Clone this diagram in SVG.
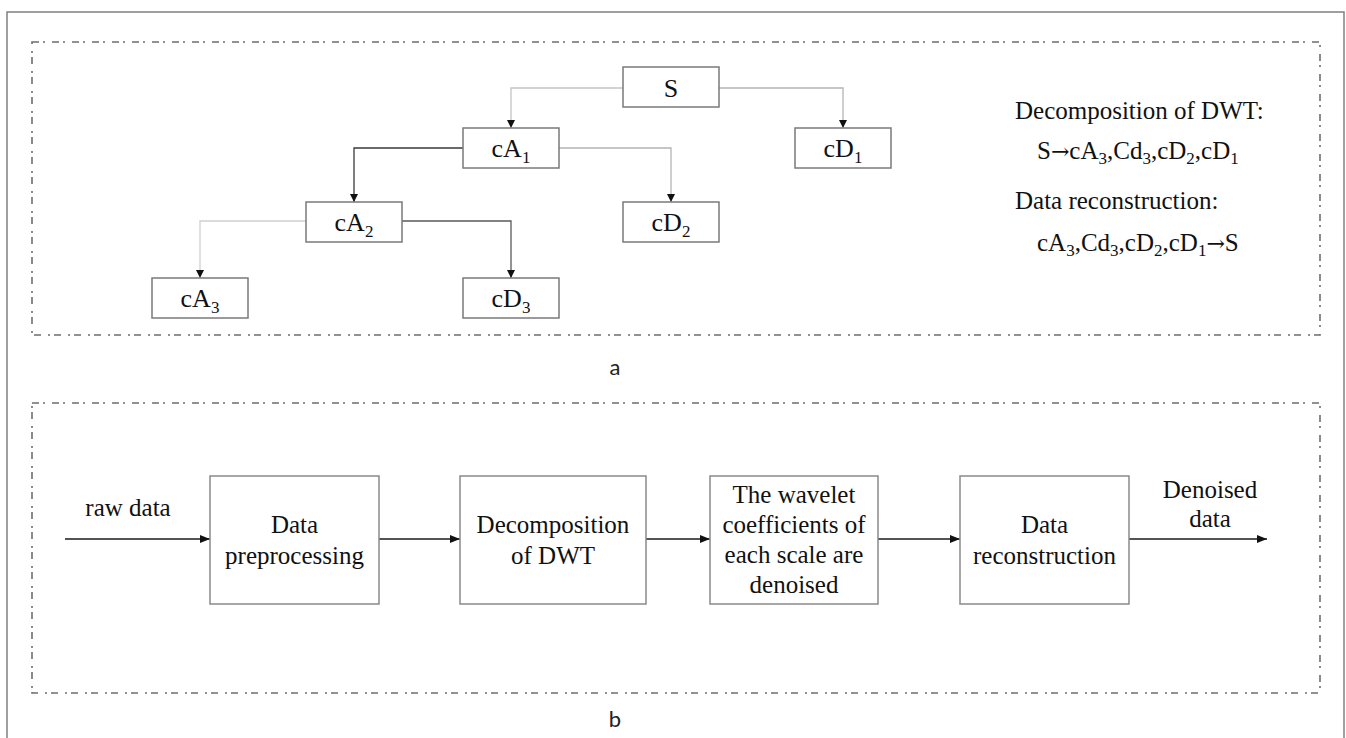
<svg xmlns="http://www.w3.org/2000/svg" width="1346" height="738" viewBox="0 0 1346 738">
<style>
.t{font-family:"Liberation Serif","Times New Roman",serif;fill:#111;}
.tn{font-size:26px;text-anchor:middle;}
.tb{font-size:25px;text-anchor:middle;}
.tr{font-size:25px;}
.sub{font-size:17px;}
.ar{font-family:"DejaVu Serif",serif;font-size:22px;}
.lbl{font-family:Lato,"Open Sans",sans-serif;font-size:22px;fill:#222;text-anchor:middle;}
.node{fill:#fff;stroke:#7a7a7a;stroke-width:1.5;}
.nodeb{fill:#fff;stroke:#8a8a8a;stroke-width:1.5;}
.dash{fill:none;stroke:#6e6e6e;stroke-width:1.6;stroke-dasharray:7 4 2 7;}
.c{fill:none;stroke-width:1.3;}
.flow{fill:none;stroke:#1a1a1a;stroke-width:1.5;}
</style>
<defs>
<marker id="ah" markerUnits="userSpaceOnUse" markerWidth="8" markerHeight="8" refX="8" refY="4" orient="auto">
<path d="M0,0 L8,4 L0,8 z" fill="#111"/>
</marker>
<marker id="ahb" markerUnits="userSpaceOnUse" markerWidth="10" markerHeight="10" refX="10" refY="5" orient="auto">
<path d="M0,1 L10,5 L0,9 z" fill="#111"/>
</marker>
</defs>
<rect width="1346" height="738" fill="#fff"/>
<rect x="7" y="12" width="1337" height="760" fill="none" stroke="#808080" stroke-width="1.5"/>
<rect class="dash" x="32" y="42" width="1288" height="293"/>
<rect class="dash" x="32" y="403" width="1288" height="290"/>
<text class="lbl" x="615" y="375">a</text>
<text class="lbl" x="615" y="727">b</text>
<g id="connectors">
<path class="c" stroke="#c4c4c4" d="M623,88 H511 V128" marker-end="url(#ah)"/>
<path class="c" stroke="#b4b4b4" d="M719,88 H843 V128" marker-end="url(#ah)"/>
<path class="c" stroke="#3a3a3a" d="M463,148 H354 V202" marker-end="url(#ah)"/>
<path class="c" stroke="#b4b4b4" d="M559,148 H671 V202" marker-end="url(#ah)"/>
<path class="c" stroke="#d0d0d0" d="M306,221 H200 V278" marker-end="url(#ah)"/>
<path class="c" stroke="#5a5a5a" d="M402,221 H511 V278" marker-end="url(#ah)"/>
<path class="flow" d="M65,539 H210" marker-end="url(#ahb)"/>
<path class="flow" d="M379,539 H460" marker-end="url(#ahb)"/>
<path class="flow" d="M646,539 H710" marker-end="url(#ahb)"/>
<path class="flow" d="M878,539 H960" marker-end="url(#ahb)"/>
<path class="flow" d="M1129,539 H1267" marker-end="url(#ahb)"/>
</g>
<g id="node-S"><rect class="node" x="623" y="67" width="96" height="40"/><text class="t tn" x="671" y="97">S</text></g>
<g id="node-cA1"><rect class="node" x="463" y="128" width="96" height="40"/><text class="t tn" x="511" y="157">cA<tspan class="sub" dy="6">1</tspan></text></g>
<g id="node-cD1"><rect class="node" x="795" y="128" width="96" height="40"/><text class="t tn" x="843" y="157">cD<tspan class="sub" dy="6">1</tspan></text></g>
<g id="node-cA2"><rect class="node" x="306" y="202" width="96" height="40"/><text class="t tn" x="354" y="231">cA<tspan class="sub" dy="6">2</tspan></text></g>
<g id="node-cD2"><rect class="node" x="623" y="202" width="96" height="40"/><text class="t tn" x="671" y="231">cD<tspan class="sub" dy="6">2</tspan></text></g>
<g id="node-cA3"><rect class="node" x="152" y="278" width="96" height="40"/><text class="t tn" x="200" y="307">cA<tspan class="sub" dy="6">3</tspan></text></g>
<g id="node-cD3"><rect class="node" x="463" y="278" width="96" height="40"/><text class="t tn" x="511" y="307">cD<tspan class="sub" dy="6">3</tspan></text></g>
<g id="legend">
<text class="t tr" x="1015" y="119">Decomposition of DWT:</text>
<text class="t tr" x="1037" y="159">S<tspan class="ar">→</tspan>cA<tspan class="sub" dy="5">3</tspan><tspan dy="-5">,Cd</tspan><tspan class="sub" dy="5">3</tspan><tspan dy="-5">,cD</tspan><tspan class="sub" dy="5">2</tspan><tspan dy="-5">,cD</tspan><tspan class="sub" dy="5">1</tspan></text>
<text class="t tr" x="1015" y="209">Data reconstruction:</text>
<text class="t tr" x="1037" y="251">cA<tspan class="sub" dy="5">3</tspan><tspan dy="-5">,Cd</tspan><tspan class="sub" dy="5">3</tspan><tspan dy="-5">,cD</tspan><tspan class="sub" dy="5">2</tspan><tspan dy="-5">,cD</tspan><tspan class="sub" dy="5">1</tspan><tspan class="ar" dy="-5">→</tspan>S</text>
</g>
<text class="t tb" x="128" y="516">raw data</text>
<g id="node-preprocessing"><rect class="nodeb" x="210" y="476" width="169" height="128"/><text class="t tb" x="294.5" y="533">Data</text><text class="t tb" x="294.5" y="564">preprocessing</text></g>
<g id="node-decomposition"><rect class="nodeb" x="460" y="476" width="186" height="128"/><text class="t tb" x="553" y="533">Decomposition</text><text class="t tb" x="553" y="564">of DWT</text></g>
<g id="node-denoise"><rect class="nodeb" x="710" y="476" width="168" height="128"/><text class="t tb" x="794" y="503">The wavelet</text><text class="t tb" x="794" y="533">coefficients of</text><text class="t tb" x="794" y="563">each scale are</text><text class="t tb" x="794" y="593">denoised</text></g>
<g id="node-reconstruction"><rect class="nodeb" x="960" y="476" width="169" height="128"/><text class="t tb" x="1044.5" y="533">Data</text><text class="t tb" x="1044.5" y="564">reconstruction</text></g>
<text class="t tb" x="1210" y="498">Denoised</text>
<text class="t tb" x="1210" y="527">data</text>
</svg>
